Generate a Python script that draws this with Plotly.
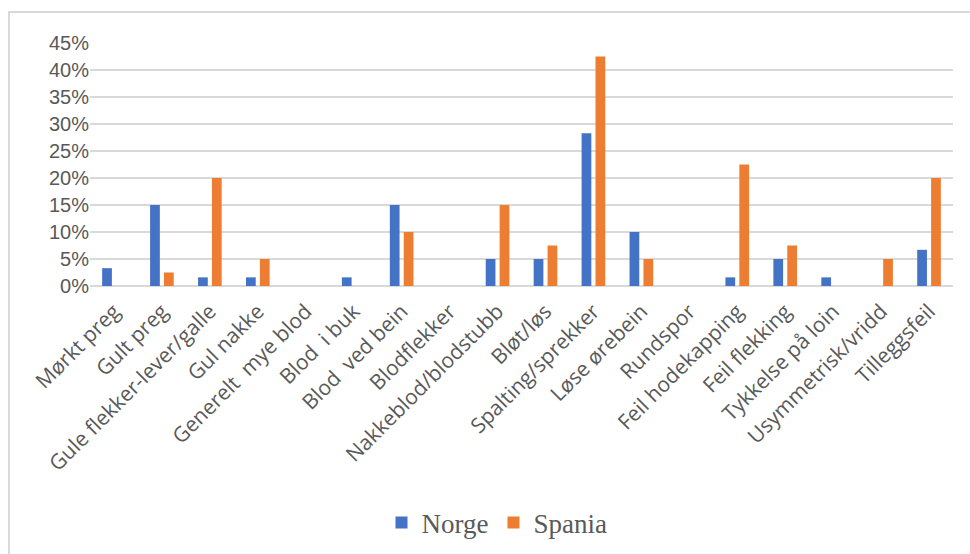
import plotly.graph_objects as go

# Defect categories and share of fish with each defect, per country
categories = [
    "Mørkt preg", "Gult preg", "Gule flekker-lever/galle", "Gul nakke",
    "Generelt  mye blod", "Blod  i buk", "Blod  ved bein", "Blodflekker",
    "Nakkeblod/blodstubb", "Bløt/løs", "Spalting/sprekker", "Løse ørebein",
    "Rundspor", "Feil hodekapping", "Feil flekking", "Tykkelse på loin",
    "Usymmetrisk/vridd", "Tilleggsfeil",
]
norge = [0.033, 0.15, 0.016, 0.016, 0.0, 0.016, 0.15, 0.0, 0.05, 0.05,
         0.283, 0.10, 0.0, 0.016, 0.05, 0.016, 0.0, 0.067]
spania = [0.0, 0.025, 0.20, 0.05, 0.0, 0.0, 0.10, 0.0, 0.15, 0.075,
          0.425, 0.05, 0.0, 0.225, 0.075, 0.0, 0.05, 0.20]
y_ticks = [0.0, 0.05, 0.10, 0.15, 0.20, 0.25, 0.30, 0.35, 0.40, 0.45]

W, H = 970, 554
L, R, T, B = 90, 17, 43, 268
pw, ph = W - L - R, H - T - B


def px_x(x):
    return (x - L) / pw


def px_y(y):
    return (H - B - y) / ph


fig = go.Figure()
fig.add_trace(go.Bar(name="Norge", x=categories, y=norge, marker_color="#4472C4",
                     marker_line_width=0))
fig.add_trace(go.Bar(name="Spania", x=categories, y=spania, marker_color="#ED7D31",
                     marker_line_width=0))

fig.update_layout(
    width=W, height=H,
    margin=dict(l=L, r=R, t=T, b=B, autoexpand=False),
    paper_bgcolor="white", plot_bgcolor="white",
    barmode="group", bargap=0.42, bargroupgap=0.3,
    showlegend=True,
    legend=dict(
        orientation="h", x=px_x(497), y=px_y(523), xanchor="center", yanchor="middle",
        font=dict(family="Liberation Serif", size=27, color="#595959"),
        itemwidth=30, tracegroupgap=0,
    ),
    shapes=[
        dict(type="rect", xref="paper", yref="paper",
             x0=px_x(9), x1=px_x(985), y0=px_y(570), y1=px_y(12),
             line=dict(color="#d9d9d9", width=2), fillcolor="rgba(0,0,0,0)", layer="below"),
    ],
)

fig.update_xaxes(
    tickangle=-45, showgrid=False, showline=False, ticks="",
    ticklabelstandoff=8,
    tickfont=dict(family="Open Sans", size=21, color="#595959"),
)
fig.update_yaxes(
    range=[0, 0.45], tickvals=y_ticks, tickformat=".0%",
    showgrid=True, gridcolor="#d9d9d9", gridwidth=2,
    zeroline=True, zerolinecolor="#d9d9d9", zerolinewidth=2,
    showline=False, ticks="", ticklen=0,
    tickfont=dict(family="Liberation Sans", size=20, color="#595959"),
)

fig.write_html("out.html")
